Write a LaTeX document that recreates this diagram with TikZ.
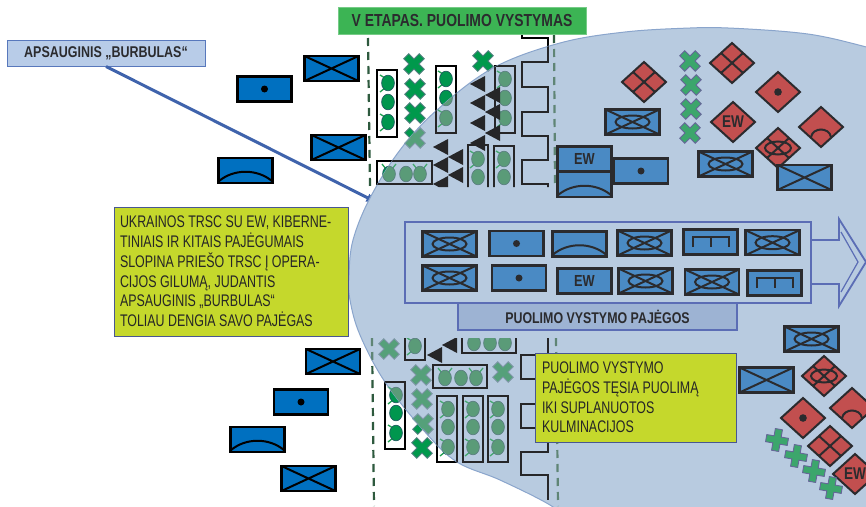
\documentclass[tikz,border=0pt]{standalone}
\usepackage{fontspec}
\setmainfont[FakeStretch=0.8]{Liberation Sans}
\newfontfamily\notefont[FakeStretch=0.74]{Liberation Sans}
\definecolor{bubblec}{HTML}{B8CBE0}
\definecolor{bubbleedge}{HTML}{8AA5CC}
\definecolor{panelc}{HTML}{5B6DB5}
\definecolor{labelc}{HTML}{9DB3D3}
\definecolor{yellowc}{HTML}{C5D82C}
\definecolor{titlec}{HTML}{3CB454}
\definecolor{shieldc}{HTML}{B8CCE8}
\definecolor{shieldedge}{HTML}{5878BC}
\definecolor{arrowc}{HTML}{3F63AC}
\definecolor{redc}{HTML}{C24F4F}
\definecolor{darkc}{HTML}{2B2B2E}
\definecolor{topx}{HTML}{3CA66C}
\definecolor{unitfill}{HTML}{4A8AC4}
\definecolor{unitline}{HTML}{2B2B2E}
\definecolor{ugreen}{HTML}{00964E}
\definecolor{uedge}{HTML}{1F5A60}
\definecolor{uant}{HTML}{1FA050}
\definecolor{uxfill}{HTML}{00994C}
\definecolor{uxedge}{HTML}{4F7F7F}
\definecolor{uline}{HTML}{000000}
\definecolor{udash}{HTML}{2E5A3E}
\tikzset{
  x=1pt,y=-1pt,
  unit/.style={draw=unitline,fill=unitfill,line width=2.2pt},
  mark line/.style={draw=unitline,line width=2pt},
  diam/.style={draw=darkc,fill=redc,line width=2pt,line join=miter},
  diam line/.style={draw=darkc,line width=2pt},
  topcross/.style={draw=gray!80!blue,fill=topx,line width=.9pt},
  undercross/.style={draw=uxedge,fill=uxfill,line width=.9pt},
  tube/.style={draw=uline,line width=2.4pt},
  blob/.style={draw=uedge,fill=ugreen,line width=.7pt},
  antenna/.style={draw=uant,line width=1.3pt},
  tri/.style={fill=uline},
  bracket/.style={draw=uline,line width=2.2pt,line join=miter},
  sepdash/.style={draw=udash,line width=2.2pt,dash pattern=on 8pt off 6pt},
  note/.style={draw=panelc!80!black,fill=yellowc,line width=.8pt,align=flush left,inner sep=0pt,
     font=\notefont\fontsize{16.8}{19.8}\selectfont,text=black!85},
  pics/uX/.style={code={
    \draw[unit] (-27,-12.5) rectangle (27,12.5);
    \draw[mark line] (-27,-12.5)--(27,12.5) (-27,12.5)--(27,-12.5);}},
  pics/uXO/.style={code={
    \draw[unit] (-27,-12.5) rectangle (27,12.5);
    \draw[mark line] (-27,-12.5)--(27,12.5) (-27,12.5)--(27,-12.5);
    \draw[mark line] (0,0) ellipse [x radius=17,y radius=6.5];}},
  pics/uDot/.style={code={
    \draw[unit] (-27,-12.5) rectangle (27,12.5);
    \fill[unitline] (0,0) circle (3.5);}},
  pics/uArc/.style={code={
    \draw[unit] (-27,-12.5) rectangle (27,12.5);
    \draw[mark line] (-27,11) .. controls (-12,-2) and (12,-2) .. (27,11);}},
  pics/uComb/.style={code={
    \draw[unit] (-27,-12.5) rectangle (27,12.5);
    \draw[mark line] (-18,5)--(-18,-5)--(18,-5)--(18,5) (0,-5)--(0,5);}},
  pics/uEW/.style={code={
    \draw[unit] (-27,-12.5) rectangle (27,12.5);
    \node[text=unitline,font=\fontsize{16}{16}\bfseries\selectfont] (ewmark) at (0,0) {EW};}},
  pics/dQuad/.style={code={
    \draw[diam] (-22,0)--(0,-20)--(22,0)--(0,20)--cycle;
    \draw[diam line] (-11,-10)--(11,10) (-11,10)--(11,-10);}},
  pics/dDot/.style={code={
    \draw[diam] (-22,0)--(0,-20)--(22,0)--(0,20)--cycle;
    \fill[darkc] (0,0) circle (3.8);}},
  pics/dArc/.style={code={
    \draw[diam] (-22,0)--(0,-20)--(22,0)--(0,20)--cycle;
    \draw[diam line] (-10,10) .. controls (-8,0) and (8,0) .. (10,10);}},
  pics/dEW/.style={code={
    \draw[diam] (-22,0)--(0,-20)--(22,0)--(0,20)--cycle;
    \node[text=darkc,font=\fontsize{17}{17}\bfseries\selectfont] (ewdiam) at (0,0) {EW};}},
  pics/dXO/.style={code={
    \draw[diam] (-22,0)--(0,-20)--(22,0)--(0,20)--cycle;
    \draw[diam line] (-11,-10)--(11,10) (-11,10)--(11,-10);
    \draw[diam line] (0,0) ellipse [x radius=13,y radius=6.5];}},
  pics/plusmark/.style={code={
    \path[pic actions] (-3.6,-11)--(3.6,-11)--(3.6,-3.6)--(11,-3.6)--(11,3.6)--(3.6,3.6)--(3.6,11)--(-3.6,11)--(-3.6,3.6)--(-11,3.6)--(-11,-3.6)--(-3.6,-3.6)--cycle;}},
}
% green blobs: plain, with antennas to the left, with antennas upward
\newcommand{\gb}[2]{\draw[blob] (#1,#2) ellipse [x radius=6.4,y radius=7.8];}
\newcommand{\ga}[2]{\draw[antenna] (#1-3,#2-5)--(#1-8,#2-8) (#1-3,#2+5)--(#1-8,#2+9);\gb{#1}{#2}}
\newcommand{\gu}[2]{\draw[antenna] (#1-3,#2-5)--(#1-7,#2-10) (#1+3,#2-5)--(#1+7,#2-10);\gb{#1}{#2}}
\newcommand{\ucr}[2]{\pic[undercross,rotate=45] at (#1,#2) {plusmark};}
\newcommand{\utri}[2]{\path[tri] (#1,#2)--(#1+15,#2-8)--(#1+15,#2+8)--cycle;}
\newcommand{\bubblepath}{plot[smooth,tension=.6] coordinates {(575,525)(550,505)(500,480)(457,462)(425,432)(385,382)(360,335)(350,300)(349,275)(353,240)(370,198)(400,150)(437,110)(493,68)(560,43)(625,32)(690,28)(728,28)(790,32)(830,38)(885,52)} -- (885,525) -- cycle}
\newcommand{\underlayer}{%
  % separator lines
  \draw[sepdash] (368,38)--(370,187);
  \draw[sepdash] (372,338)--(374,506);
  \draw[sepdash] (554,35)--(555,187);
  \draw[sepdash] (556,338)--(558,506);
  % brackets
  \draw[bracket] (522,34)--(522,38)--(548,38)--(548,62)--(522,62)--(522,87)--(548,87)--(548,112)--(522,112)--(522,136)--(548,136)--(548,160)--(522,160)--(522,184)--(548,184)--(548,190);
  \draw[bracket] (548,335)--(548,355)--(521,355)--(521,379)--(548,379)--(548,404)--(521,404)--(521,428)--(548,428)--(548,452)--(521,452)--(521,475)--(548,475)--(548,500);
  % upper tubes
  \draw[tube] (377,70) rectangle (397,137); \ga{388}{83}\gb{388}{102}\ga{388}{122}
  \draw[tube] (436,66) rectangle (456,133); \ga{446}{79}\gb{446}{98}\ga{446}{118}
  \draw[tube] (495,66) rectangle (515,133); \ga{505}{79}\gb{505}{98}\ga{505}{118}
  \draw[tube] (377,161) rectangle (432,184); \gu{389}{174}\gb{406}{174}\gu{420}{174}
  \draw[tube] (468,145) rectangle (488,200); \ga{478}{159}\gb{478}{177}
  \draw[tube] (494,146) rectangle (514,200); \ga{504}{159}\gb{504}{177}
  % upper crosses
  \ucr{414}{64}\ucr{415}{89}\ucr{415}{113}\ucr{415}{138}\ucr{483}{61}
  % upper triangles
  \utri{470}{84}\utri{470}{103}\utri{470}{123}\utri{470}{143}
  \utri{485}{95}\utri{485}{112}\utri{485}{133}
  \utri{433}{147}\utri{433}{165}\utri{433}{184}
  \utri{448}{157}\utri{448}{175}
  % lower group
  \ucr{389}{349}
  \draw[tube] (405,330) rectangle (425,360); \ga{415}{346}
  \utri{427}{355}\utri{442}{345}
  \draw[tube] (462,325) rectangle (516,353); \gb{474}{343}\gb{490}{343}\gb{505}{343}
  \draw[tube] (433,365) rectangle (487,388); \gu{445}{378}\gb{461}{378}\gu{476}{378}
  \ucr{503}{372}
  \ucr{421}{375}\ucr{422}{399}\ucr{423}{424}\ucr{422}{448}
  \draw[tube] (385,382) rectangle (405,449); \ga{396}{395}\gb{396}{413}\ga{396}{433}
  \draw[tube] (437,396) rectangle (457,462); \ga{448}{409}\gb{448}{427}\ga{448}{447}
  \draw[tube] (463,396) rectangle (483,462); \ga{473}{409}\gb{473}{427}\ga{473}{447}
  \draw[tube] (488,396) rectangle (508,462); \ga{498}{409}\gb{498}{427}\ga{498}{447}
}
\newcommand{\cutzones}{\clip (-5,-5) rectangle (880,187) (-5,338) rectangle (880,520);}
\begin{document}
\begin{tikzpicture}
\useasboundingbox (0,0) rectangle (866,506);
\clip (0,0) rectangle (866,506);
\fill[white] (0,0) rectangle (866,506);

% layer beneath the bubble, as seen outside it
\begin{scope}
  \cutzones
  \underlayer
\end{scope}

% left blue units
\begin{scope}
  \definecolor{unitfill}{HTML}{0070C0}
  \definecolor{unitline}{HTML}{000000}
  \pic at (331.5,68.5) {uX};
  \pic at (264.5,89) {uDot};
  \pic at (338.5,147.5) {uX};
  \pic at (245.5,170.5) {uArc};
  \pic at (333,361.5) {uX};
  \pic at (301,402) {uDot};
  \pic at (257.5,439.5) {uArc};
  \pic at (308.5,478.5) {uX};
\end{scope}

% shield label and its pointer
\node[draw=shieldedge,fill=shieldc,line width=1pt,minimum width=198pt,minimum height=26pt,inner sep=0pt,
  font=\fontsize{15.6}{15.6}\bfseries\selectfont,text=darkc] (shield) at (106,53) {APSAUGINIS „BURBULAS“};
\coordinate (shieldtip) at (378,203);
\draw[arrowc,line width=3pt,-latex] (shield.south) -- (shieldtip);

% bubble
\fill[bubblec] \bubblepath;
\draw[bubbleedge,line width=1pt] \bubblepath;

% same layer, seen through the bubble
\begin{scope}
  \clip \bubblepath;
  \cutzones
  \definecolor{ugreen}{HTML}{5A9B78}
  \definecolor{uedge}{HTML}{5A7F80}
  \definecolor{uant}{HTML}{45A870}
  \definecolor{uxfill}{HTML}{55A07A}
  \definecolor{uxedge}{HTML}{7F97A8}
  \definecolor{uline}{HTML}{262628}
  \definecolor{udash}{HTML}{5F8575}
  \underlayer
\end{scope}

% upper right force
\pic at (644,82) {dQuad};
\pic at (732,63) {dQuad};
\pic at (778,92) {dDot};
\pic at (821,127) {dArc};
\pic at (733,122) {dEW};
\pic at (778,148) {dXO};
\pic[topcross,rotate=45] at (690,61) {plusmark};
\pic[topcross,rotate=45] at (691,85) {plusmark};
\pic[topcross,rotate=45] at (691,109) {plusmark};
\pic[topcross,rotate=45] at (690,133) {plusmark};
\pic at (632.5,122) {uXO};
\pic at (725.5,164) {uXO};
\pic at (804.5,177.5) {uX};
\pic at (641,171) {uDot};
\pic at (584.5,184.5) {uArc};
\pic at (584.5,159) {uEW};

% lower right force
\pic at (824,376) {dXO};
\pic at (803,418) {dDot};
\pic at (852,408) {dArc};
\pic at (830,446) {dQuad};
\pic at (855,474) {dEW};
\pic[topcross,rotate=-10] at (777,440) {plusmark};
\pic[topcross,rotate=-10] at (796,456) {plusmark};
\pic[topcross,rotate=-10] at (814,471) {plusmark};
\pic[topcross,rotate=-10] at (831,488) {plusmark};
\pic at (811.5,339) {uXO};
\pic at (766.5,380) {uX};

% main force panel
\draw[panelc,line width=1.8pt,line join=miter] (811,240)--(839,240)--(839,219)--(866,262)--(839,306)--(839,284)--(811,284);
\draw[panelc,line width=1.2pt] (841,232)--(858,262)--(841,292);
\node[draw=panelc,line width=1.4pt,minimum width=406pt,minimum height=81pt,inner sep=0pt] (panel) at (608,262.5) {};
\node[draw=panelc,fill=labelc,line width=1.4pt,minimum width=279pt,minimum height=27pt,inner sep=0pt,
  font=\fontsize{15.5}{15.5}\bfseries\selectfont,text=darkc] (forcelabel) at (597.5,316.5) {PUOLIMO VYSTYMO PAJĖGOS};
\pic at (449.5,244) {uXO};
\pic at (516.5,243.5) {uDot};
\pic at (579.5,244) {uArc};
\pic at (644.5,243) {uXO};
\pic at (710.5,242) {uComb};
\pic at (772.5,242.7) {uXO};
\pic at (449.5,278) {uXO};
\pic at (519,278) {uDot};
\pic at (584.5,281) {uEW};
\pic at (645.5,281) {uXO};
\pic at (712,282) {uXO};
\pic at (774.5,283) {uComb};

% text boxes
\node[note,minimum width=234pt,minimum height=129pt,text width=222pt] (brief) at (231,271.5)
 {UKRAINOS TRSC SU EW, KIBERNE-\\TINIAIS IR KITAIS PAJĖGUMAIS\\SLOPINA PRIEŠO TRSC Į OPERA-\\CIJOS GILUMĄ, JUDANTIS\\APSAUGINIS „BURBULAS“\\TOLIAU DENGIA SAVO PAJĖGAS};
\node[note,minimum width=201pt,minimum height=89pt,text width=187pt] (continue) at (635.5,397.5)
 {PUOLIMO VYSTYMO\\PAJĖGOS TĘSIA PUOLIMĄ\\IKI SUPLANUOTOS\\KULMINACIJOS};
\node[fill=titlec,draw=titlec!70!white,line width=.8pt,minimum width=248pt,minimum height=27pt,inner sep=0pt,
  font=\fontsize{17.4}{17.4}\bfseries\selectfont,text=darkc] (title) at (462,20.5) {V ETAPAS. PUOLIMO VYSTYMAS};
\end{tikzpicture}
\end{document}
